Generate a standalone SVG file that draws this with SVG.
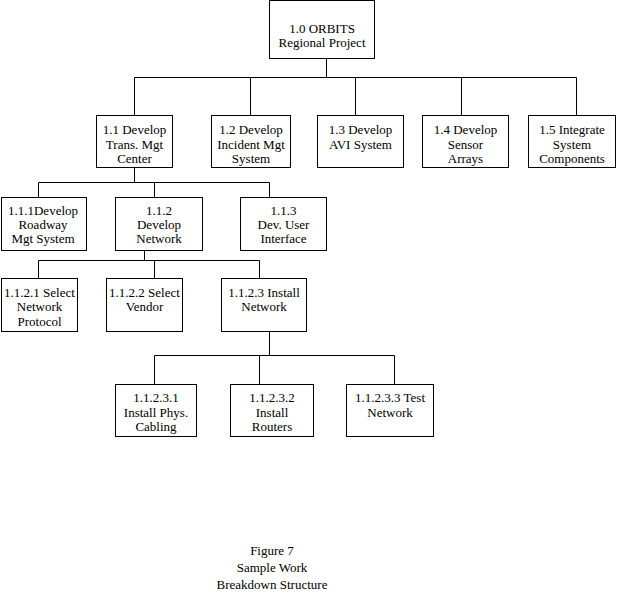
<svg xmlns="http://www.w3.org/2000/svg" width="618" height="607" viewBox="0 0 618 607">
<style>
.box{fill:#fff;stroke:#000;stroke-width:1}
.c{fill:none;stroke:#000;stroke-width:1}
text{font-family:'Liberation Serif',serif;font-size:13px;fill:#000;text-anchor:middle}
</style>
<rect width="618" height="607" fill="#fff"/>
<g id="connectors">
<path class="c" d="M326.5,58.5V77.5M134.5,77.5H576.5M134.5,77.5V115.5M250.5,77.5V115.5M355.5,77.5V115.5M461.5,77.5V115.5M576.5,77.5V115.5"/>
<path class="c" d="M134.5,167.5V182.5M38.5,182.5H269.5M38.5,182.5V197.5M154.5,182.5V197.5M269.5,182.5V197.5"/>
<path class="c" d="M144.5,250.5V260.5M38.5,260.5H259.5M38.5,260.5V278.5M154.5,260.5V278.5M259.5,260.5V278.5"/>
<path class="c" d="M269.5,331.5V355.5M154.5,355.5H394.5M154.5,355.5V384.5M259.5,355.5V384.5M394.5,355.5V384.5"/>
</g>
<g id="n1_0"><rect class="box" x="269.5" y="0.5" width="105" height="58"/><text x="322" y="33">1.0 ORBITS</text><text x="322" y="47">Regional Project</text></g>
<g id="n1_1"><rect class="box" x="96.5" y="115.5" width="76" height="52"/><text x="134.5" y="134">1.1 Develop</text><text x="134.5" y="149">Trans. Mgt</text><text x="134.5" y="163">Center</text></g>
<g id="n1_2"><rect class="box" x="211.5" y="115.5" width="79" height="52"/><text x="251" y="134">1.2 Develop</text><text x="251" y="149">Incident Mgt</text><text x="251" y="163">System</text></g>
<g id="n1_3"><rect class="box" x="317.5" y="115.5" width="86" height="52"/><text x="360.5" y="134">1.3 Develop</text><text x="360.5" y="149">AVI System</text></g>
<g id="n1_4"><rect class="box" x="422.5" y="115.5" width="86" height="52"/><text x="465.5" y="134">1.4 Develop</text><text x="465.5" y="149">Sensor</text><text x="465.5" y="163">Arrays</text></g>
<g id="n1_5"><rect class="box" x="528.5" y="115.5" width="87" height="52"/><text x="572" y="134">1.5 Integrate</text><text x="572" y="149">System</text><text x="572" y="163">Components</text></g>
<g id="n1_1_1"><rect class="box" x="1.5" y="197.5" width="85" height="53"/><text x="43" y="215">1.1.1Develop</text><text x="43" y="229">Roadway</text><text x="43" y="243">Mgt System</text></g>
<g id="n1_1_2"><rect class="box" x="115.5" y="197.5" width="87" height="53"/><text x="159" y="215">1.1.2</text><text x="159" y="229">Develop</text><text x="159" y="243">Network</text></g>
<g id="n1_1_3"><rect class="box" x="240.5" y="197.5" width="86" height="53"/><text x="283.5" y="215">1.1.3</text><text x="283.5" y="229">Dev. User</text><text x="283.5" y="243">Interface</text></g>
<g id="n1_1_2_1"><rect class="box" x="1.5" y="278.5" width="76" height="53"/><text x="39.5" y="297">1.1.2.1 Select</text><text x="39.5" y="311">Network</text><text x="39.5" y="325.5">Protocol</text></g>
<g id="n1_1_2_2"><rect class="box" x="106.5" y="278.5" width="76" height="53"/><text x="144.5" y="297">1.1.2.2 Select</text><text x="144.5" y="311">Vendor</text></g>
<g id="n1_1_2_3"><rect class="box" x="221.5" y="278.5" width="85" height="53"/><text x="264" y="297">1.1.2.3 Install</text><text x="264" y="311">Network</text></g>
<g id="n1_1_2_3_1"><rect class="box" x="115.5" y="384.5" width="81" height="52"/><text x="156" y="402">1.1.2.3.1</text><text x="156" y="416.5">Install Phys.</text><text x="156" y="431">Cabling</text></g>
<g id="n1_1_2_3_2"><rect class="box" x="230.5" y="384.5" width="83" height="52"/><text x="272" y="402">1.1.2.3.2</text><text x="272" y="416.5">Install</text><text x="272" y="431">Routers</text></g>
<g id="n1_1_2_3_3"><rect class="box" x="346.5" y="384.5" width="87" height="52"/><text x="390" y="402">1.1.2.3.3 Test</text><text x="390" y="416.5">Network</text></g>
<g id="caption"><text x="272" y="555">Figure 7</text><text x="272" y="572">Sample Work</text><text x="272" y="589">Breakdown Structure</text></g>
</svg>
